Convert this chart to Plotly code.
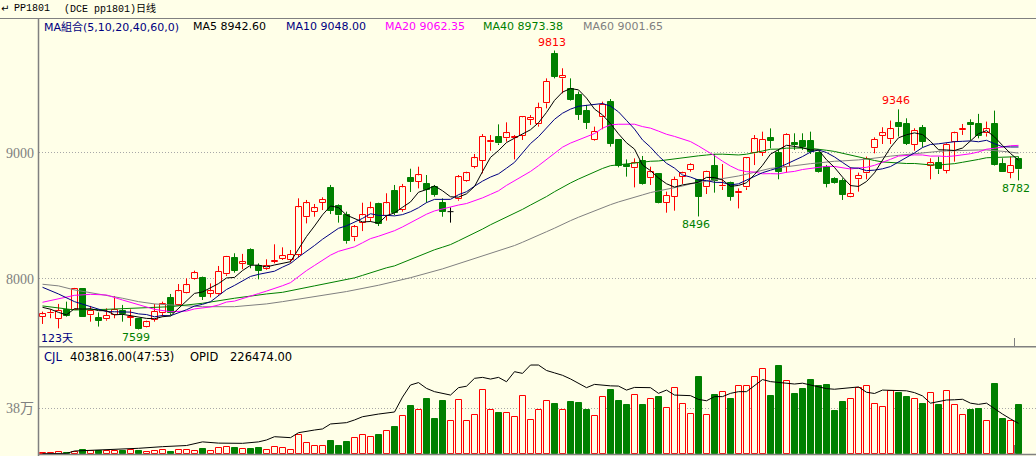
import plotly.graph_objects as go
import pandas as pd

# ---------------- data ----------------
opens = [7701, 7726, 7683, 7751, 7754, 7918, 7712, 7690, 7680, 7717,
         7749, 7694, 7682, 7622, 7675, 7728, 7849, 7794, 7891, 7997,
         8005, 7881, 7878, 8037, 8164, 8122, 8230, 8103, 8077, 8135,
         8161, 8150, 8190, 8489, 8534, 8605, 8719, 8579, 8507, 8330,
         8447, 8481, 8595, 8502, 8698, 8547, 8801, 8772, 8754, 8732,
         8600, 8534, 8632, 8780, 8891, 8939, 9084, 9124, 9116, 9116,
         9135, 9262, 9227, 9394, 9785, 9592, 9505, 9460, 9333, 9103,
         9283, 9407, 9103, 8907, 8878, 8939, 8799, 8833, 8605, 8653,
         8812, 8865, 8785, 8727, 8896, 8735, 8764, 8680, 8727, 8997,
         9002, 9116, 8997, 8891, 9082, 9098, 9098, 8997, 8886, 8796,
         8780, 8653, 8791, 8838, 9037, 9135, 9108, 9235, 9230, 9063,
         9196, 8897, 8923, 8860, 9090, 9180, 9241, 9230, 9156, 9230,
         8913, 8844, 8950]
highs = [7741, 7759, 7802, 7820, 7929, 7926, 7786, 7735, 7767, 7865,
         7794, 7759, 7682, 7669, 7802, 7820, 7881, 7960, 8005, 8066,
         8019, 7965, 8103, 8183, 8204, 8199, 8243, 8124, 8156, 8275,
         8251, 8230, 8640, 8627, 8595, 8648, 8746, 8592, 8534, 8428,
         8605, 8613, 8605, 8680, 8746, 8754, 8875, 8891, 8825, 8746,
         8640, 8568, 8825, 8851, 8992, 9150, 9142, 9227, 9243, 9142,
         9293, 9301, 9399, 9592, 9813, 9672, 9592, 9487, 9381, 9209,
         9407, 9428, 9110, 8949, 8957, 8976, 8891, 8840, 8693, 8812,
         8851, 8918, 8791, 8859, 8992, 8912, 8772, 8719, 8965, 9142,
         9169, 9195, 9029, 9156, 9156, 9156, 9169, 9010, 8905, 8807,
         8799, 8886, 8844, 8971, 9124, 9204, 9257, 9346, 9275, 9196,
         9222, 8958, 8971, 9077, 9169, 9230, 9267, 9310, 9249, 9336,
         8958, 8971, 8971]
lows = [7643, 7688, 7608, 7701, 7754, 7701, 7661, 7622, 7669, 7688,
        7661, 7627, 7599, 7616, 7661, 7701, 7714, 7786, 7886, 7992,
        7833, 7854, 7865, 8024, 8050, 8077, 8085, 7997, 8071, 8124,
        8151, 8130, 8170, 8441, 8494, 8547, 8515, 8447, 8280, 8300,
        8380, 8455, 8420, 8463, 8507, 8534, 8690, 8719, 8605, 8653,
        8494, 8447, 8621, 8772, 8878, 8838, 9018, 9063, 9090, 8949,
        9103, 9222, 9209, 9354, 9592, 9473, 9415, 9262, 9190, 9098,
        9188, 9050, 8886, 8812, 8727, 8746, 8746, 8600, 8526, 8542,
        8754, 8851, 8496, 8674, 8685, 8706, 8621, 8560, 8706, 8904,
        8976, 9037, 8791, 8844, 9024, 9024, 8992, 8844, 8727, 8754,
        8627, 8648, 8693, 8791, 8997, 9071, 9071, 9130, 9063, 9018,
        9045, 8791, 8833, 8838, 8931, 9143, 9103, 9116, 9130, 8900,
        8852, 8799, 8782]
closes = [7719, 7730, 7746, 7709, 7918, 7701, 7746, 7669, 7706, 7754,
          7722, 7698, 7605, 7656, 7741, 7802, 7728, 7902, 7950, 8045,
          7860, 7902, 8058, 8175, 8066, 8132, 8111, 8066, 8103, 8143,
          8183, 8190, 8568, 8600, 8560, 8627, 8542, 8505, 8300, 8410,
          8505, 8560, 8436, 8600, 8521, 8727, 8772, 8822, 8706, 8666,
          8534, 8534, 8806, 8838, 8957, 9129, 9095, 9076, 9156, 9129,
          9283, 9277, 9354, 9566, 9606, 9611, 9420, 9301, 9240, 9169,
          9381, 9071, 8896, 8886, 8918, 8751, 8846, 8605, 8658, 8785,
          8838, 8904, 8653, 8851, 8780, 8740, 8653, 8687, 8957, 9108,
          9103, 9098, 8852, 9143, 9063, 9050, 9010, 8852, 8754, 8759,
          8667, 8674, 8817, 8950, 9103, 9156, 9188, 9204, 9071, 9177,
          9090, 8918, 8870, 9063, 9156, 9188, 9220, 9135, 9188, 8905,
          8852, 8898, 8870]
volumes = [11000, 11000, 16500, 8000, 16500, 33000, 27500, 27500, 25000, 25000,
           25000, 33000, 25000, 16500, 25000, 33000, 16500, 33000, 33000, 25000,
           41000, 25000, 49600, 55000, 49600, 38500, 44000, 49600, 33000, 55000,
           46800, 33000, 154000, 88000, 63300, 63300, 107000, 66000, 99000, 135000,
           154000, 137000, 157000, 190000, 223000, 311000, 396000, 360000, 454000, 289000,
           438000, 272000, 443000, 272000, 319000, 526000, 360000, 338000, 338000, 303000,
           477000, 281000, 360000, 435000, 413000, 360000, 430000, 421000, 363000, 311000,
           468000, 528000, 438000, 405000, 487000, 405000, 451000, 470000, 377000, 548000,
           413000, 328000, 636000, 319000, 487000, 509000, 454000, 559000, 559000, 633000,
           699000, 479000, 727000, 600000, 496000, 537000, 611000, 561000, 570000, 355000,
           430000, 451000, 542000, 559000, 413000, 388000, 520000, 504000, 470000, 451000,
           413000, 504000, 405000, 518000, 405000, 319000, 363000, 371000, 272000, 577000,
           289000, 272000, 403816]

# open interest line (read points: day index, value)
opid_days = [0, 3, 4, 8, 12, 15, 18, 20, 22, 25, 27, 28, 29, 31, 32, 34, 35, 36, 38, 39,
             40, 42, 44, 45, 46, 47, 48, 49, 50, 51, 52, 53, 54, 55, 56, 57, 58, 59, 60, 61,
             62, 63, 64, 65, 66, 67, 68, 69, 70, 71, 72, 73, 74, 75, 76, 77, 78, 79, 80, 81,
             82, 83, 84, 85, 86, 87, 88, 89, 90, 91, 92, 93, 94, 95, 96, 97, 98, 99, 100, 101,
             102, 103, 104, 105, 106, 107, 108, 109, 110, 111, 112, 113, 114, 115, 116, 117, 118, 119, 120, 121,
             122]
opid_vals = [3000, 5000, 24800, 33000, 47000, 60600, 70000, 100000, 90000, 88100, 100000, 115700, 143000, 135000, 176000, 198000, 207000, 248000, 259000, 281000,
             308000, 330000, 347000, 470000, 570000, 590000, 542000, 515000, 500000, 487000, 548000, 560000, 625000, 633000, 619000, 633000, 597000, 680000, 666000, 735000,
             735000, 690000, 670000, 650000, 620000, 584000, 548000, 575000, 568000, 563000, 561000, 528000, 550000, 550000, 548000, 501000, 528000, 487000, 485000, 482000,
             451000, 440000, 474000, 474000, 501000, 515000, 515000, 565000, 615000, 598000, 590000, 585000, 578000, 585000, 570000, 560000, 540000, 535000, 542000, 545000,
             554000, 510000, 500000, 528000, 524000, 526000, 522000, 507000, 480000, 420000, 432000, 446000, 448000, 452000, 420000, 410000, 420000, 372000, 330000, 290000,
             253000]

# moving-average values read for the first days (before a full window exists)
ma5_head_days, ma5_head = [0, 1, 2, 3], [7775, 7760, 7735, 7715]
ma10_head_days, ma10_head = [0, 2, 4, 6, 8], [7934, 7881, 7820, 7780, 7741]
ma20_head_days = [0, 2, 4, 6, 8, 10, 12, 14, 16, 18]
ma20_head = [7815, 7845, 7870, 7878, 7873, 7833, 7794, 7759, 7740, 7745]
ma40_head_days = [0, 4, 8, 12, 16, 20, 24, 28, 30, 34, 38]
ma40_head = [7786, 7754, 7759, 7767, 7780, 7807, 7847, 7881, 7894, 7945, 7995]
ma60_head_days = [0, 2, 4, 6, 8, 10, 12, 14, 16, 18, 20, 24, 28, 30, 34, 38, 42, 46, 50, 54, 58]
ma60_head = [7958, 7945, 7913, 7891, 7870, 7847, 7820, 7802, 7794, 7786, 7780, 7780, 7802, 7820,
             7860, 7900, 7950, 8010, 8080, 8160, 8243]

ma_legend = [("MA5 8942.60", "#000000", 191), ("MA10 9048.00", "#000080", 284),
             ("MA20 9062.35", "#FF00FF", 383), ("MA40 8973.38", "#008000", 481),
             ("MA60 9001.65", "#808080", 581)]
peak_labels = [(64, "high", "#FF0000"), (12, "low", "#008000"), (82, "low", "#008000"),
               (107, "high", "#FF0000"), (122, "low", "#008000")]

# ---------------- styling ----------------
BG = "#FFFFE8"
RED, GREEN, BLACK = "#FF0000", "#008000", "#000000"
NAVY, MAG, GRAY = "#000080", "#FF00FF", "#808080"
W, H = 1036, 456
ML, MT = 39, 18
PW, PH = W - ML, H - MT

days = list(range(len(closes)))


def px(xp, yp):
    return (xp - ML) / PW, (H - yp) / PH


fig = go.Figure()

# candle bodies
def add_bodies(mask, line_color, fill_color, yaxis, values_from_volume=False):
    xs = [d for d, m in zip(days, mask) if m]
    if values_from_volume:
        ys = [volumes[d] for d in xs]
        base = None
    else:
        ys = [max(abs(closes[d] - opens[d]), 1) for d in xs]
        base = [min(opens[d], closes[d]) for d in xs]
    fig.add_trace(go.Bar(x=xs, y=ys, base=base, width=0.75, yaxis=yaxis,
                         marker=dict(color=fill_color, line=dict(color=line_color, width=1)),
                         hoverinfo="skip"))

up = [c > o for o, c in zip(opens, closes)]
dn = [c < o for o, c in zip(opens, closes)]
dj = [c == o for o, c in zip(opens, closes)]

add_bodies(up, RED, BG, "y")
add_bodies(dn, GREEN, GREEN, "y")

# wicks
def add_wicks(mask, color):
    xs, ys = [], []
    for d, m in zip(days, mask):
        if not m:
            continue
        top, bot = max(opens[d], closes[d]), min(opens[d], closes[d])
        xs += [d, d, None, d, d, None]
        ys += [highs[d], top, None, bot, lows[d], None]
        if top == bot:
            xs += [d - 0.375, d + 0.375, None]
            ys += [top, top, None]
    fig.add_trace(go.Scatter(x=xs, y=ys, mode="lines", yaxis="y",
                             line=dict(color=color, width=1), hoverinfo="skip"))

add_wicks(up, RED)
add_wicks(dn, GREEN)
add_wicks(dj, BLACK)

# moving averages
cs = pd.Series(closes, dtype=float)
def add_ma(n, head_days, head_vals, color):
    roll = cs.rolling(n).mean()
    xs = head_days + days[n - 1:]
    ys = head_vals + list(roll.iloc[n - 1:])
    fig.add_trace(go.Scatter(x=xs, y=ys, mode="lines", yaxis="y",
                             line=dict(color=color, width=1), hoverinfo="skip"))

add_ma(60, ma60_head_days, ma60_head, GRAY)
add_ma(40, ma40_head_days, ma40_head, GREEN)
add_ma(20, ma20_head_days, ma20_head, MAG)
add_ma(10, ma10_head_days, ma10_head, NAVY)
add_ma(5, ma5_head_days, ma5_head, BLACK)

# volume bars
vup = [c >= o for o, c in zip(opens, closes)]
vdn = [c < o for o, c in zip(opens, closes)]
add_bodies(vup, RED, BG, "y2", values_from_volume=True)
add_bodies(vdn, GREEN, GREEN, "y2", values_from_volume=True)

# open interest
fig.add_trace(go.Scatter(x=opid_days, y=opid_vals, mode="lines", yaxis="y2",
                         line=dict(color=BLACK, width=1), hoverinfo="skip"))

# ---------------- annotations ----------------
ann = []
def text(xp, yp, s, color, size=11, family="DejaVu Sans, Noto Sans CJK SC", xanchor="left"):
    x, y = px(xp, yp)
    ann.append(dict(x=x, y=y, xref="paper", yref="paper", text=s, showarrow=False,
                    xanchor=xanchor, yanchor="middle",
                    font=dict(color=color, size=size, family=family)))

# header
text(-1, 9, "↵", BLACK, size=10, family="DejaVu Sans")
text(12, 9, "PP1801", BLACK, size=10, family="Liberation Mono")
text(62, 9, "(DCE pp1801)日线", BLACK, size=10, family="Liberation Mono, Noto Sans CJK SC")

# MA legend row
text(42, 26.5, "MA組合(5,10,20,40,60,0)", NAVY, family="DejaVu Sans, Noto Sans CJK TC")
for s, c, xp in ma_legend:
    text(xp, 26.5, s, c)

# volume panel legend
text(42, 356.5, "CJL", NAVY, size=11.5)
text(68, 356.5, "403816.00(47:53)", BLACK, size=11.5)
text(188, 356.5, "OPID", BLACK, size=11.5)
text(228, 356.5, "226474.00", BLACK, size=11.5)

# days count
text(39, 338, "123天", NAVY)

# peak / trough labels
for d, kind, color in peak_labels:
    val = highs[d] if kind == "high" else lows[d]
    ann.append(dict(x=d, y=val, xref="x", yref="y", text=str(val), showarrow=False,
                    xanchor="center", yanchor="middle",
                    xshift=-3, yshift=(8.5 if kind == "high" else -8.5),
                    font=dict(color=color, size=11, family="DejaVu Sans")))

# ---------------- frame lines ----------------
shapes = []
def hline(yp, x0p, x1p, width=1, color=GRAY):
    x0, y = px(x0p, yp)
    x1, _ = px(x1p, yp)
    shapes.append(dict(type="line", xref="paper", yref="paper", x0=x0, x1=x1, y0=y, y1=y,
                       line=dict(color=color, width=width)))
def vline(xp, y0p, y1p, width=1, color=GRAY):
    x, y0 = px(xp, y0p)
    _, y1 = px(xp, y1p)
    shapes.append(dict(type="line", xref="paper", yref="paper", x0=x, x1=x, y0=y0, y1=y1,
                       line=dict(color=color, width=width)))

hline(18.5, 0, W, 1)
vline(38.5, 18.5, H, 1.5)
hline(346.8, 38, W, 1.5)
hline(454.5, 38, W, 1.5)
vline(1014.5, 338, 347)
vline(1014.5, 445, 454)

# ---------------- layout ----------------
main_lo, main_hi = 7468, 10071
vol_hi = 883900

fig.update_layout(
    width=W, height=H,
    margin=dict(l=ML, r=0, t=MT, b=0, pad=0),
    paper_bgcolor=BG, plot_bgcolor=BG,
    showlegend=False, barmode="overlay", bargap=0,
    hovermode=False,
    xaxis=dict(range=[-0.4375, 124.1875], visible=False, anchor="y2"),
    yaxis=dict(domain=[(H - 346) / PH, 1], range=[main_lo, main_hi],
               tickvals=[8000, 9000], ticktext=["8000", "9000"],
               showgrid=True, gridcolor="#A8A8A8", griddash="1px,2px", gridwidth=1,
               zeroline=False, showline=False, ticks="", ticklabelstandoff=4,
               tickfont=dict(family="Liberation Serif", size=14, color=GRAY)),
    yaxis2=dict(domain=[(H - 454) / PH, (H - 347) / PH], range=[0, vol_hi],
                tickvals=[380000], ticktext=["38万"],
                showgrid=True, gridcolor="#A8A8A8", griddash="1px,2px", gridwidth=1,
                zeroline=False, showline=False, ticks="", ticklabelstandoff=4,
                tickfont=dict(family="Liberation Serif, Noto Sans CJK SC", size=14, color=GRAY)),
    annotations=ann,
    shapes=shapes,
)

fig.write_html("out.html", config={"displayModeBar": False})
